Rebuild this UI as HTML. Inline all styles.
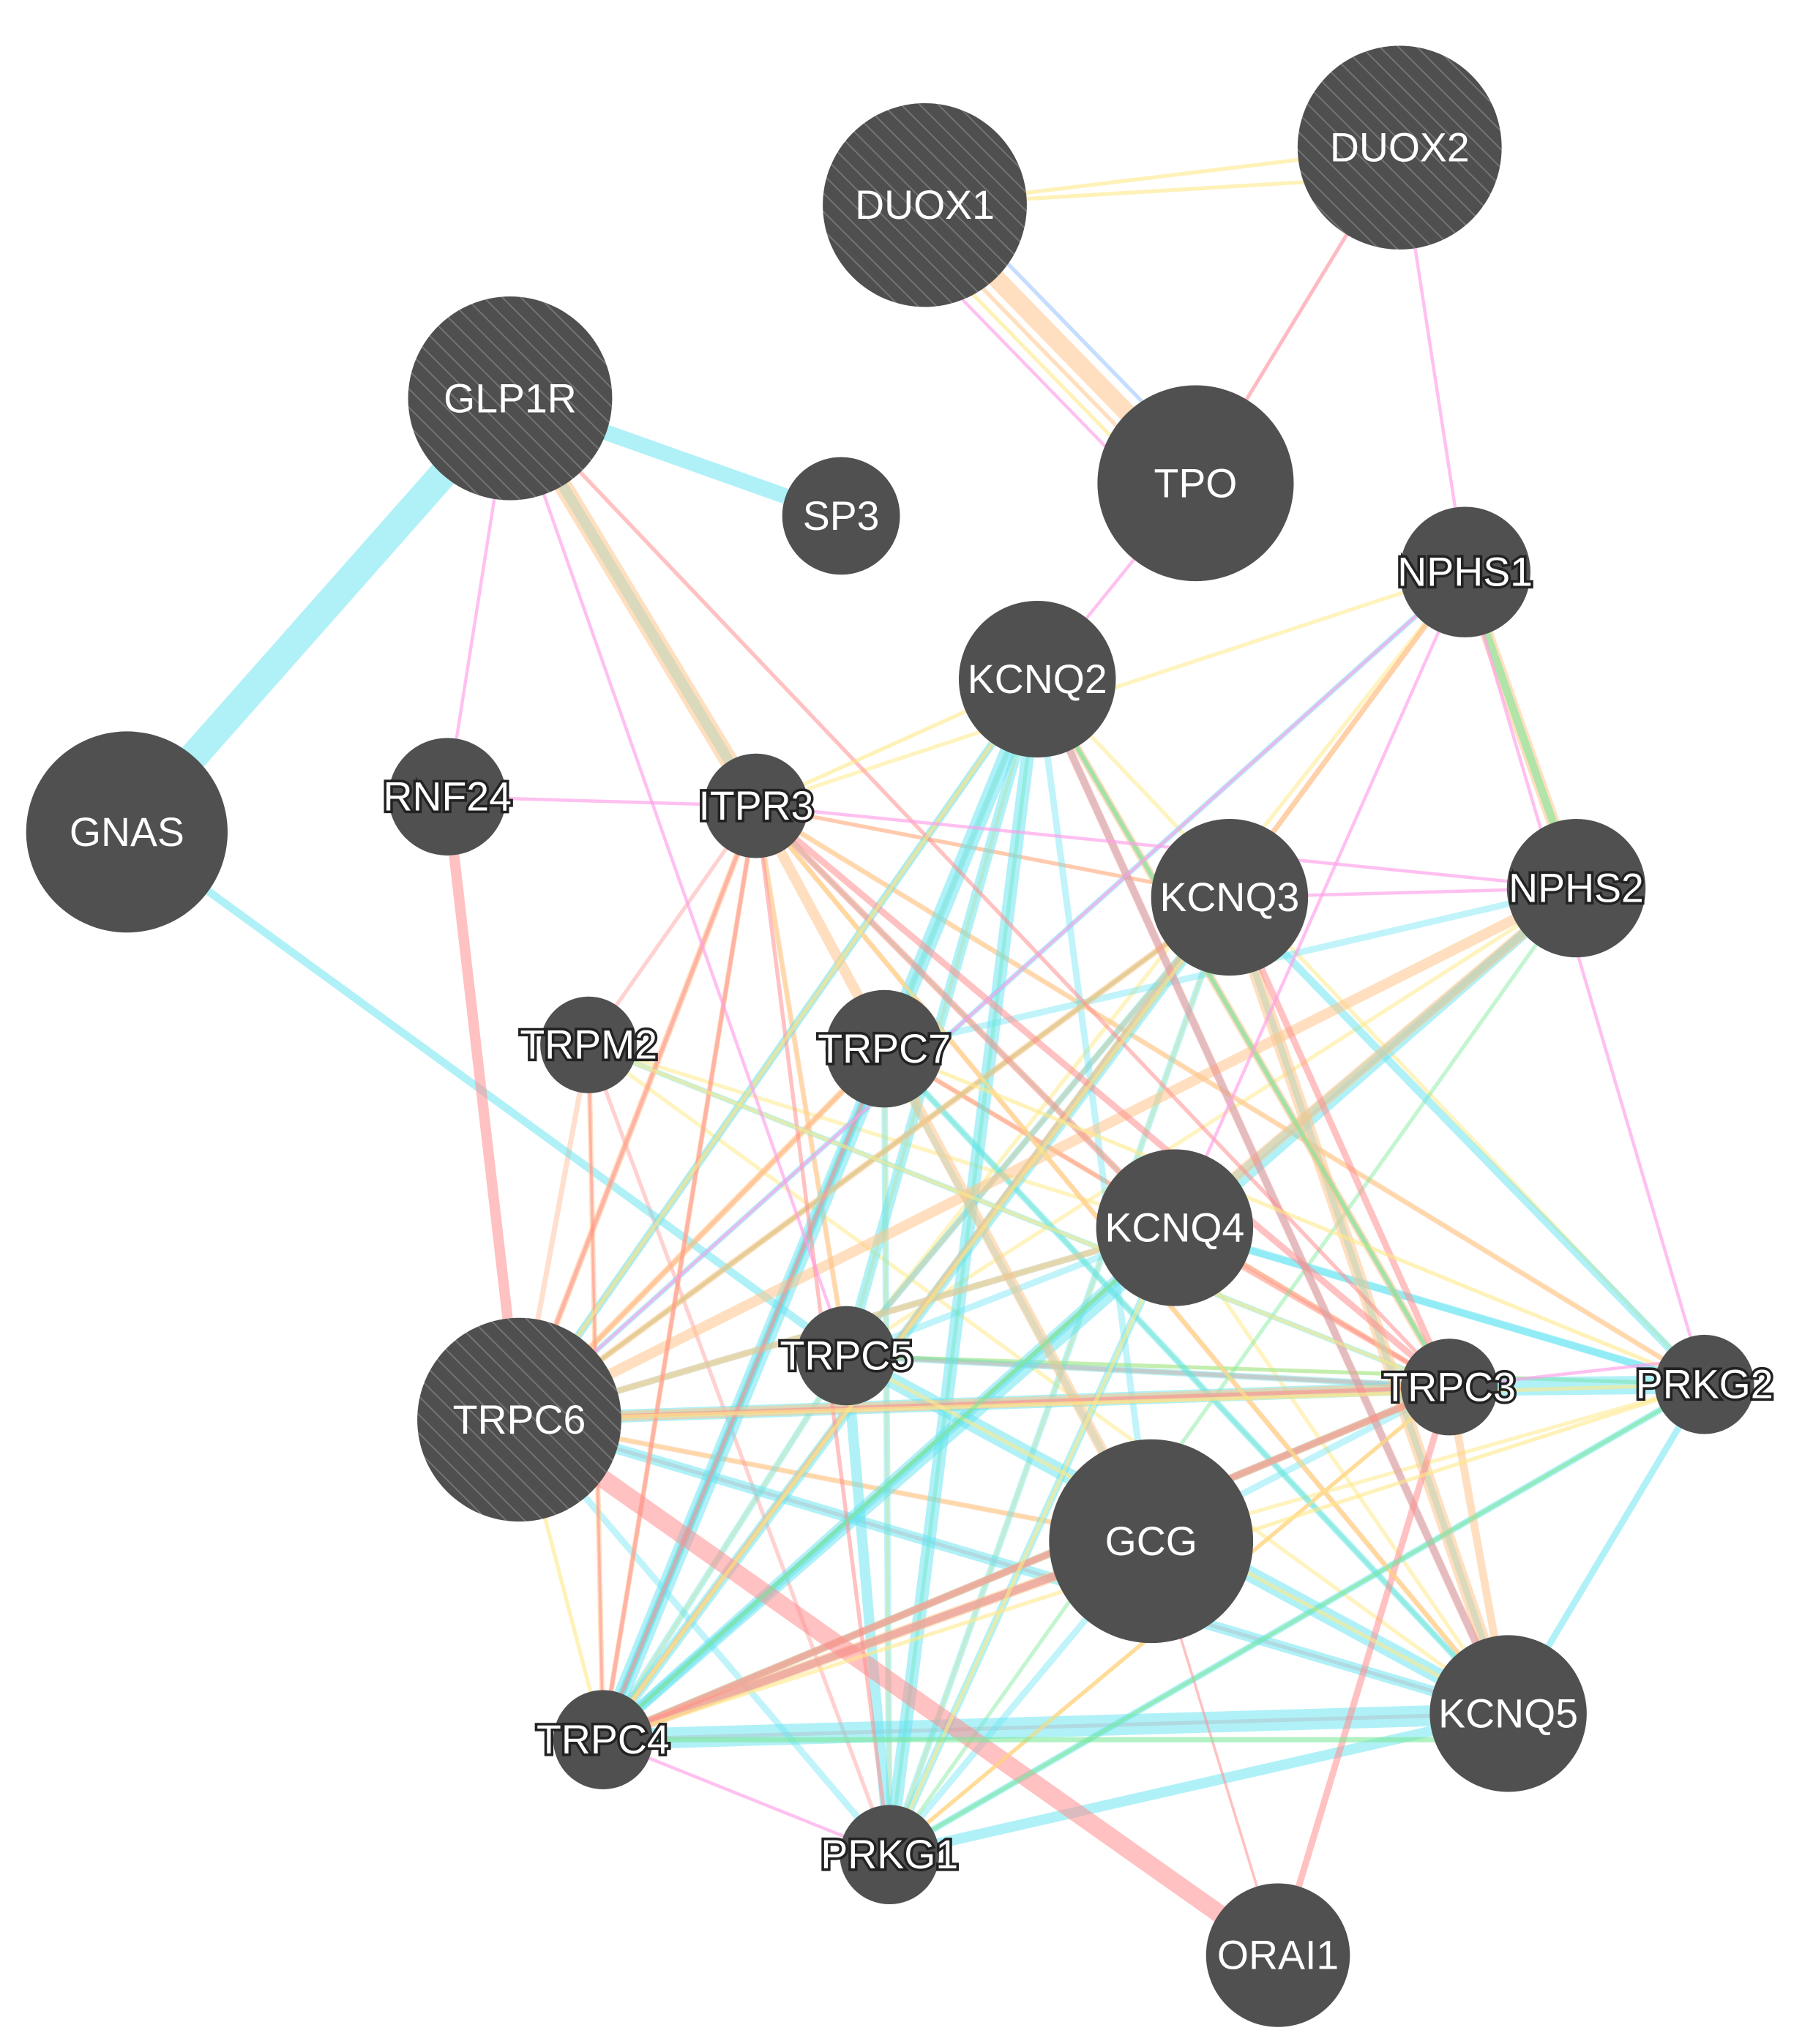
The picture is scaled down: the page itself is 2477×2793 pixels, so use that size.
<!DOCTYPE html>
<html><head><meta charset="utf-8"><style>
html,body{margin:0;padding:0;background:#fff;width:2477px;height:2793px;overflow:hidden}
svg{display:block}
.l{font-family:"Liberation Sans",sans-serif;fill:#fff;text-anchor:middle;dominant-baseline:central}
.s{paint-order:stroke;stroke:#222;stroke-width:4px}
</style></head><body>
<svg width="2477" height="2793" viewBox="0 0 1386 1565" preserveAspectRatio="none" xmlns="http://www.w3.org/2000/svg">
<defs>
<pattern id="h" width="10" height="10" patternUnits="userSpaceOnUse" patternTransform="rotate(-45)">
<rect width="10" height="10" fill="#4f4f4f"/><line x1="0" y1="0" x2="0" y2="10" stroke="#777" stroke-width="2"/>
</pattern>
</defs>
<g stroke-linecap="butt" fill="none">
<!-- extra dense thin edges -->
<g stroke="#ffe98a" stroke-opacity="0.55" stroke-width="3">
<line x1="578" y1="617" x2="1303" y2="1060"/>
<line x1="578" y1="617" x2="940" y2="687"/>
<line x1="578" y1="617" x2="647" y2="1038"/>
<line x1="793" y1="520" x2="461" y2="1332"/>
<line x1="793" y1="520" x2="647" y2="1038"/>
<line x1="793" y1="520" x2="1303" y2="1060"/>
<line x1="940" y1="687" x2="647" y2="1038"/>
<line x1="940" y1="687" x2="680" y2="1420"/>
<line x1="450" y1="800" x2="898" y2="940"/>
<line x1="450" y1="800" x2="1153" y2="1312"/>
<line x1="676" y1="803" x2="1108" y2="1062"/>
<line x1="676" y1="803" x2="680" y2="1420"/>
<line x1="647" y1="1038" x2="1303" y2="1060"/>
<line x1="647" y1="1038" x2="461" y2="1332"/>
<line x1="397" y1="1087" x2="898" y2="940"/>
<line x1="397" y1="1087" x2="940" y2="687"/>
<line x1="397" y1="1087" x2="676" y2="803"/>
<line x1="880" y1="1180" x2="1303" y2="1060"/>
<line x1="880" y1="1180" x2="397" y2="1087"/>
<line x1="898" y1="940" x2="1153" y2="1312"/>
<line x1="1108" y1="1062" x2="680" y2="1420"/>
<line x1="461" y1="1332" x2="898" y2="940"/>
<line x1="461" y1="1332" x2="676" y2="803"/>
<line x1="1120" y1="438" x2="647" y2="1038"/>
<line x1="1205" y1="680" x2="647" y2="1038"/>
<line x1="578" y1="617" x2="1120" y2="438"/>
</g>
<g stroke="#ffb890" stroke-opacity="0.45" stroke-width="4">
<line x1="578" y1="617" x2="1153" y2="1312"/>
<line x1="578" y1="617" x2="647" y2="1038"/>
<line x1="793" y1="520" x2="397" y2="1087"/>
<line x1="940" y1="687" x2="461" y2="1332"/>
<line x1="676" y1="803" x2="1108" y2="1062"/>
<line x1="450" y1="800" x2="397" y2="1087"/>
<line x1="647" y1="1038" x2="1108" y2="1062"/>
<line x1="397" y1="1087" x2="880" y2="1180"/>
<line x1="461" y1="1332" x2="898" y2="940"/>
<line x1="898" y1="940" x2="1108" y2="1062"/>
<line x1="1120" y1="438" x2="461" y2="1332"/>
<line x1="676" y1="803" x2="461" y2="1332"/>
<line x1="578" y1="617" x2="1303" y2="1060"/>
<line x1="940" y1="687" x2="647" y2="1038"/>
<line x1="1108" y1="1062" x2="397" y2="1087"/>
</g>
<g stroke="#ff9a9a" stroke-opacity="0.45" stroke-width="3">
<line x1="578" y1="617" x2="1153" y2="1312"/>
<line x1="578" y1="617" x2="940" y2="687"/>
<line x1="578" y1="617" x2="450" y2="800"/>
<line x1="676" y1="803" x2="1108" y2="1062"/>
<line x1="676" y1="803" x2="397" y2="1087"/>
<line x1="647" y1="1038" x2="1108" y2="1062"/>
<line x1="940" y1="687" x2="397" y2="1087"/>
<line x1="397" y1="1087" x2="1153" y2="1312"/>
<line x1="461" y1="1332" x2="940" y2="687"/>
<line x1="461" y1="1332" x2="1153" y2="1312"/>
<line x1="898" y1="940" x2="1108" y2="1062"/>
<line x1="680" y1="1420" x2="1108" y2="1062"/>
<line x1="450" y1="800" x2="680" y2="1420"/>
</g>
<g stroke="#62e3f2" stroke-opacity="0.4" stroke-width="5">
<line x1="793" y1="520" x2="461" y2="1332"/>
<line x1="793" y1="520" x2="880" y2="1180"/>
<line x1="940" y1="687" x2="680" y2="1420"/>
<line x1="940" y1="687" x2="647" y2="1038"/>
<line x1="676" y1="803" x2="680" y2="1420"/>
<line x1="676" y1="803" x2="880" y2="1180"/>
<line x1="898" y1="940" x2="397" y2="1087"/>
<line x1="898" y1="940" x2="647" y2="1038"/>
<line x1="1108" y1="1062" x2="647" y2="1038"/>
<line x1="397" y1="1087" x2="680" y2="1420"/>
<line x1="461" y1="1332" x2="647" y2="1038"/>
<line x1="880" y1="1180" x2="680" y2="1420"/>
<line x1="1108" y1="1062" x2="880" y2="1180"/>
<line x1="1205" y1="680" x2="676" y2="803"/>
<line x1="1303" y1="1060" x2="897" y2="940"/>
<line x1="793" y1="520" x2="1153" y2="1312"/>
</g>
<g stroke="#7de89a" stroke-opacity="0.45" stroke-width="3">
<line x1="793" y1="520" x2="680" y2="1420"/>
<line x1="940" y1="687" x2="397" y2="1087"/>
<line x1="676" y1="803" x2="1153" y2="1312"/>
<line x1="898" y1="940" x2="461" y2="1332"/>
<line x1="647" y1="1038" x2="1303" y2="1060"/>
<line x1="461" y1="1332" x2="1108" y2="1062"/>
<line x1="1205" y1="680" x2="680" y2="1420"/>
<line x1="578" y1="617" x2="898" y2="940"/>
</g>
<!-- cyan thick -->
<g stroke="#62e3f2" stroke-opacity="0.5">
<line x1="97" y1="637" x2="390" y2="305" stroke-width="22"/>
<line x1="390" y1="305" x2="643" y2="395" stroke-width="12"/>
<line x1="97" y1="637" x2="647" y2="1038" stroke-width="6"/>
<line x1="390" y1="305" x2="578" y2="617" stroke-width="8"/>
<line x1="793" y1="520" x2="461" y2="1332" stroke-width="12"/>
<line x1="793" y1="520" x2="680" y2="1420" stroke-width="10"/>
<line x1="793" y1="520" x2="647" y2="1038" stroke-width="8"/>
<line x1="793" y1="520" x2="397" y2="1087" stroke-width="6"/>
<line x1="940" y1="687" x2="461" y2="1332" stroke-width="8"/>
<line x1="940" y1="687" x2="1303" y2="1060" stroke-width="6"/>
<line x1="940" y1="687" x2="1153" y2="1312" stroke-width="5"/>
<line x1="898" y1="940" x2="461" y2="1332" stroke-width="8"/>
<line x1="898" y1="940" x2="1303" y2="1060" stroke-width="6"/>
<line x1="898" y1="940" x2="680" y2="1420" stroke-width="6"/>
<line x1="647" y1="1038" x2="1153" y2="1312" stroke-width="12"/>
<line x1="647" y1="1038" x2="680" y2="1420" stroke-width="8"/>
<line x1="397" y1="1087" x2="1108" y2="1062" stroke-width="10"/>
<line x1="1108" y1="1062" x2="1303" y2="1060" stroke-width="14"/>
<line x1="461" y1="1332" x2="1153" y2="1312" stroke-width="16"/>
<line x1="680" y1="1420" x2="1153" y2="1312" stroke-width="8"/>
<line x1="680" y1="1420" x2="1303" y2="1060" stroke-width="5"/>
<line x1="397" y1="1087" x2="1153" y2="1312" stroke-width="8"/>
<line x1="1205" y1="680" x2="461" y2="1332" stroke-width="8"/>
<line x1="1205" y1="680" x2="898" y2="940" stroke-width="6"/>
<line x1="676" y1="803" x2="461" y2="1332" stroke-width="6"/>
<line x1="676" y1="803" x2="1153" y2="1312" stroke-width="5"/>
<line x1="450" y1="800" x2="1108" y2="1062" stroke-width="4"/>
<line x1="1120" y1="438" x2="397" y2="1087" stroke-width="4"/>
<line x1="880" y1="1180" x2="461" y2="1332" stroke-width="6"/>
<line x1="1153" y1="1312" x2="1303" y2="1060" stroke-width="5"/>
<line x1="1108" y1="1062" x2="461" y2="1332" stroke-width="6"/>
<line x1="793" y1="520" x2="1108" y2="1062" stroke-width="4"/>
</g>
<!-- orange -->
<g stroke="#ffc48a" stroke-opacity="0.55">
<line x1="390" y1="305" x2="578" y2="617" stroke-width="14"/>
<line x1="707" y1="157" x2="914" y2="370" stroke-width="14"/>
<line x1="1120" y1="438" x2="1205" y2="680" stroke-width="10"/>
<line x1="940" y1="687" x2="1153" y2="1312" stroke-width="10"/>
<line x1="1205" y1="680" x2="397" y2="1087" stroke-width="8"/>
<line x1="578" y1="617" x2="880" y2="1180" stroke-width="8"/>
<line x1="578" y1="617" x2="397" y2="1087" stroke-width="5"/>
<line x1="578" y1="617" x2="461" y2="1332" stroke-width="4"/>
<line x1="397" y1="1087" x2="1108" y2="1062" stroke-width="8"/>
<line x1="461" y1="1332" x2="1108" y2="1062" stroke-width="6"/>
<line x1="880" y1="1180" x2="461" y2="1332" stroke-width="8"/>
<line x1="940" y1="687" x2="397" y2="1087" stroke-width="5"/>
<line x1="898" y1="940" x2="397" y2="1087" stroke-width="5"/>
<line x1="1120" y1="438" x2="461" y2="1332" stroke-width="4"/>
<line x1="793" y1="520" x2="1108" y2="1062" stroke-width="6"/>
<line x1="1108" y1="1062" x2="1153" y2="1312" stroke-width="6"/>
<line x1="1205" y1="680" x2="898" y2="940" stroke-width="8"/>
<line x1="450" y1="800" x2="461" y2="1332" stroke-width="4"/>
<line x1="676" y1="803" x2="397" y2="1087" stroke-width="5"/>
<line x1="914" y1="370" x2="1070" y2="113" stroke-width="3"/>
<line x1="707" y1="157" x2="914" y2="370" stroke-width="3" transform="translate(-10,8)"/>
</g>
<!-- red -->
<g stroke="#ff8e8e" stroke-opacity="0.55">
<line x1="342" y1="610" x2="397" y2="1087" stroke-width="8"/>
<line x1="397" y1="1087" x2="977" y2="1497" stroke-width="14"/>
<line x1="1108" y1="1062" x2="977" y2="1497" stroke-width="5"/>
<line x1="1108" y1="1062" x2="461" y2="1332" stroke-width="5"/>
<line x1="880" y1="1180" x2="461" y2="1332" stroke-width="6"/>
<line x1="578" y1="617" x2="1108" y2="1062" stroke-width="5"/>
<line x1="578" y1="617" x2="898" y2="940" stroke-width="5"/>
<line x1="578" y1="617" x2="397" y2="1087" stroke-width="3"/>
<line x1="578" y1="617" x2="461" y2="1332" stroke-width="3"/>
<line x1="578" y1="617" x2="680" y2="1420" stroke-width="3"/>
<line x1="390" y1="305" x2="1108" y2="1062" stroke-width="3"/>
<line x1="793" y1="520" x2="1153" y2="1312" stroke-width="6"/>
<line x1="940" y1="687" x2="1108" y2="1062" stroke-width="5"/>
<line x1="450" y1="800" x2="461" y2="1332" stroke-width="2"/>
<line x1="676" y1="803" x2="461" y2="1332" stroke-width="3"/>
<line x1="1108" y1="1062" x2="397" y2="1087" stroke-width="3"/>
<line x1="880" y1="1180" x2="977" y2="1497" stroke-width="2"/>
</g>
<!-- yellow -->
<g stroke="#ffe98a" stroke-opacity="0.6" stroke-width="3">
<line x1="707" y1="157" x2="1070" y2="113"/>
<line x1="707" y1="157" x2="1070" y2="135"/>
<line x1="914" y1="370" x2="1070" y2="113"/>
<line x1="707" y1="157" x2="914" y2="370" transform="translate(-20,10)"/>
<line x1="578" y1="617" x2="793" y2="520"/>
<line x1="578" y1="617" x2="1153" y2="1312"/>
<line x1="397" y1="1087" x2="1303" y2="1060"/>
<line x1="461" y1="1332" x2="1303" y2="1060"/>
<line x1="397" y1="1087" x2="461" y2="1332"/>
<line x1="450" y1="800" x2="1108" y2="1062"/>
<line x1="793" y1="520" x2="397" y2="1087"/>
<line x1="940" y1="687" x2="461" y2="1332"/>
<line x1="676" y1="803" x2="1303" y2="1060"/>
<line x1="680" y1="1420" x2="1108" y2="1062"/>
<line x1="647" y1="1038" x2="1153" y2="1312"/>
<line x1="898" y1="940" x2="680" y2="1420"/>
</g>
<!-- green -->
<g stroke="#7de89a" stroke-opacity="0.6">
<line x1="1120" y1="438" x2="1205" y2="680" stroke-width="6"/>
<line x1="461" y1="1332" x2="1153" y2="1332" stroke-width="4"/>
<line x1="793" y1="520" x2="1108" y2="1062" stroke-width="3"/>
<line x1="898" y1="940" x2="461" y2="1332" stroke-width="3"/>
<line x1="1303" y1="1060" x2="680" y2="1420" stroke-width="3"/>
</g>
<!-- pink -->
<g stroke="#ff9ee8" stroke-opacity="0.65" stroke-width="2.5">
<line x1="390" y1="305" x2="342" y2="610"/>
<line x1="390" y1="305" x2="647" y2="1038"/>
<line x1="342" y1="610" x2="578" y2="617"/>
<line x1="578" y1="617" x2="1205" y2="680"/>
<line x1="914" y1="370" x2="793" y2="520"/>
<line x1="1070" y1="113" x2="914" y2="370"/>
<line x1="1070" y1="113" x2="1120" y2="438"/>
<line x1="1120" y1="438" x2="1303" y2="1060"/>
<line x1="1120" y1="438" x2="898" y2="940"/>
<line x1="940" y1="687" x2="1205" y2="680"/>
<line x1="1108" y1="1062" x2="1303" y2="1040"/>
<line x1="461" y1="1332" x2="680" y2="1420"/>
<line x1="1120" y1="438" x2="397" y2="1087"/>
<line x1="707" y1="157" x2="914" y2="370" transform="translate(-28,14)"/>
</g>
<line x1="707" y1="157" x2="914" y2="370" stroke="#9fc6ff" stroke-opacity="0.6" stroke-width="3" transform="translate(14,-6)"/>
</g>
<!-- nodes -->
<g fill="#505050">
<circle cx="707" cy="157" r="78" fill="url(#h)"/>
<circle cx="1070" cy="113" r="78" fill="url(#h)"/>
<circle cx="390" cy="305" r="78" fill="url(#h)"/>
<circle cx="643" cy="395" r="45"/>
<circle cx="914" cy="370" r="75"/>
<circle cx="1120" cy="438" r="50"/>
<circle cx="793" cy="520" r="60"/>
<circle cx="97" cy="637" r="77"/>
<circle cx="342" cy="610" r="45"/>
<circle cx="578" cy="617" r="40"/>
<circle cx="940" cy="687" r="60"/>
<circle cx="1205" cy="680" r="53"/>
<circle cx="450" cy="800" r="37"/>
<circle cx="676" cy="803" r="45"/>
<circle cx="898" cy="940" r="60"/>
<circle cx="647" cy="1038" r="38"/>
<circle cx="397" cy="1087" r="78" fill="url(#h)"/>
<circle cx="1108" cy="1062" r="37"/>
<circle cx="1303" cy="1060" r="38"/>
<circle cx="880" cy="1180" r="78"/>
<circle cx="1153" cy="1312" r="60"/>
<circle cx="461" cy="1332" r="38"/>
<circle cx="680" cy="1420" r="38"/>
<circle cx="977" cy="1497" r="55"/>
</g>
<g class="l" font-size="31">
<text x="707" y="157">DUOX1</text>
<text x="1070" y="113">DUOX2</text>
<text x="390" y="305">GLP1R</text>
<text x="643" y="395">SP3</text>
<text x="914" y="370">TPO</text>
<text x="793" y="520">KCNQ2</text>
<text x="97" y="637">GNAS</text>
<text x="940" y="687">KCNQ3</text>
<text x="898" y="940">KCNQ4</text>
<text x="397" y="1087">TRPC6</text>
<text x="880" y="1180">GCG</text>
<text x="1153" y="1312">KCNQ5</text>
<text x="977" y="1497">ORAI1</text>
</g>
<g class="l s" font-size="31">
<text x="1120" y="438">NPHS1</text>
<text x="342" y="610">RNF24</text>
<text x="578" y="617">ITPR3</text>
<text x="1205" y="680">NPHS2</text>
<text x="450" y="800">TRPM2</text>
<text x="676" y="803">TRPC7</text>
<text x="647" y="1038">TRPC5</text>
<text x="1108" y="1062">TRPC3</text>
<text x="1303" y="1060">PRKG2</text>
<text x="461" y="1332">TRPC4</text>
<text x="680" y="1420">PRKG1</text>
</g>
</svg>
</body></html>
